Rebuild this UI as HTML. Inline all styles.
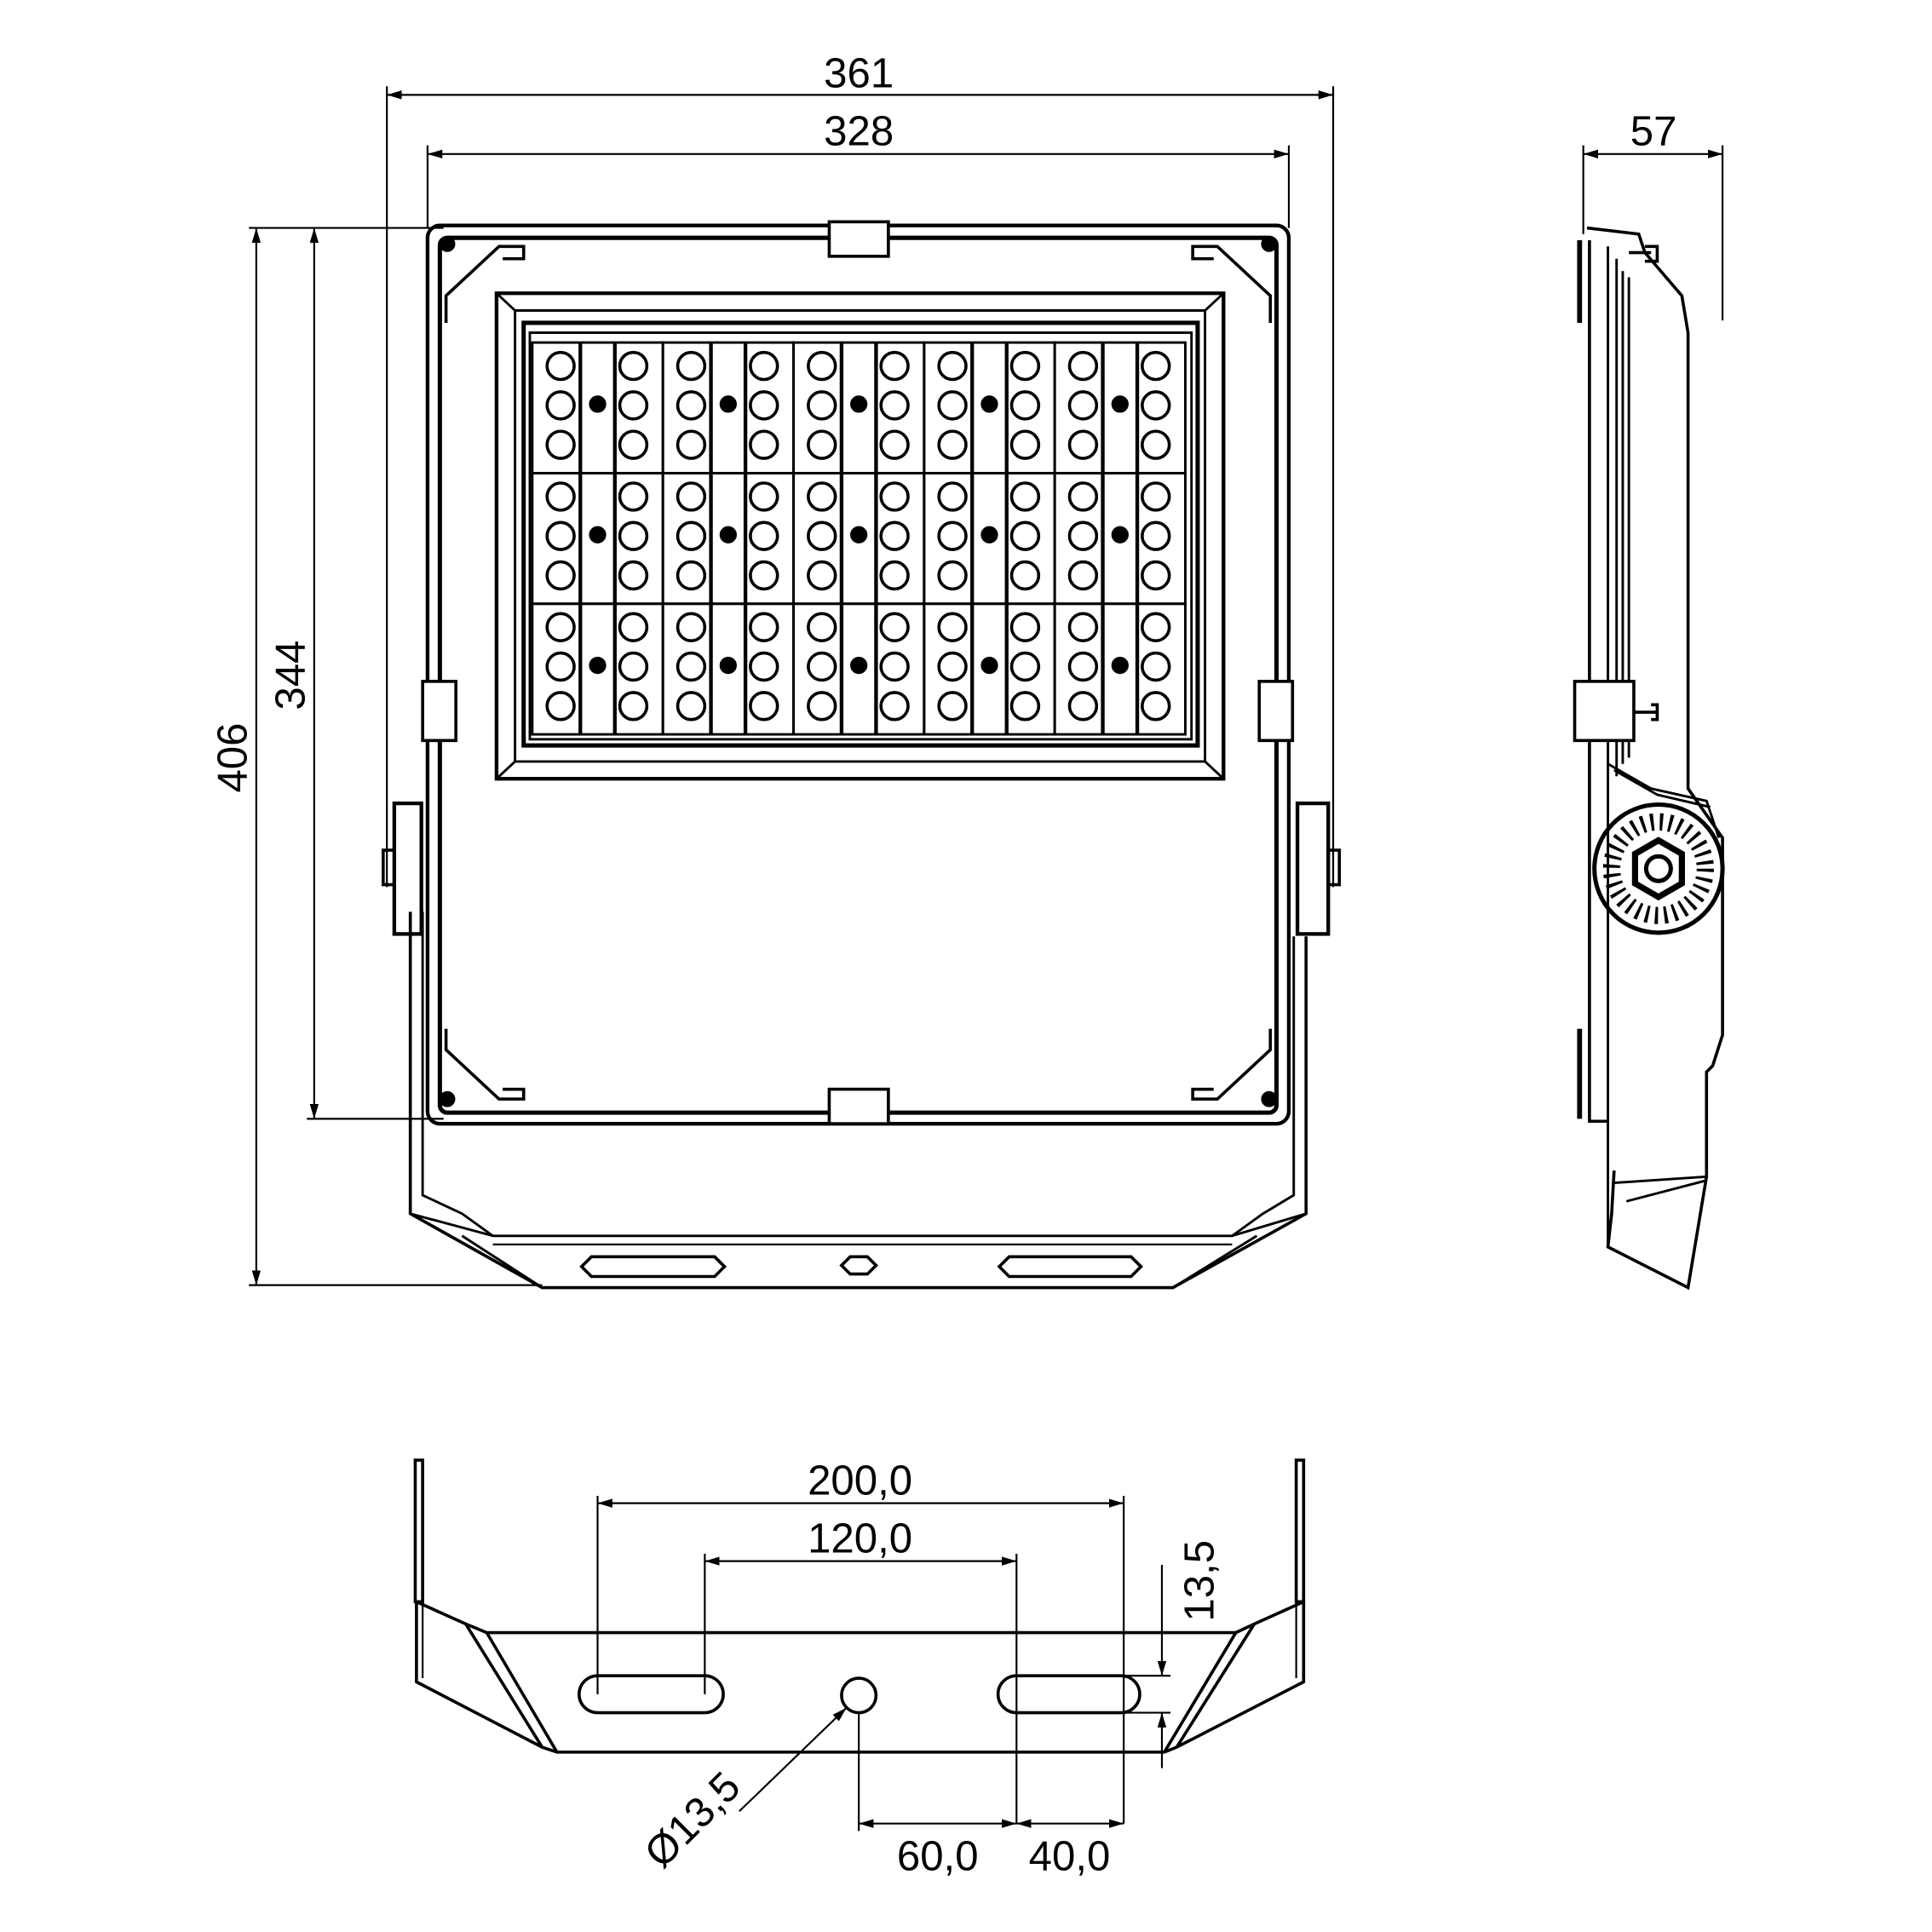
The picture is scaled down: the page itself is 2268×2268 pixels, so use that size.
<!DOCTYPE html>
<html><head><meta charset="utf-8"><style>html,body{margin:0;padding:0;background:#fff}svg{display:block}</style></head>
<body>
<svg width="2268" height="2268" viewBox="0 0 1568 1568" xmlns="http://www.w3.org/2000/svg" font-family="Liberation Sans, sans-serif">
<defs>
<marker id="ar" viewBox="0 0 10 10" refX="10" refY="5" markerWidth="12" markerHeight="12" markerUnits="userSpaceOnUse" orient="auto-start-reverse"><path d="M0,2 L10,5 L0,8 z" fill="#000"/></marker>
<g id="mod" fill="none" stroke="#000">
<rect x="0" y="0" width="106" height="106" stroke-width="2"/>
<line x1="39" y1="0" x2="39" y2="106" stroke-width="3"/>
<line x1="67" y1="0" x2="67" y2="106" stroke-width="3"/>
<circle cx="23" cy="19" r="11" stroke-width="2.5"/><circle cx="23" cy="51" r="11" stroke-width="2.5"/><circle cx="23" cy="83" r="11" stroke-width="2.5"/>
<circle cx="82" cy="19" r="11" stroke-width="2.5"/><circle cx="82" cy="51" r="11" stroke-width="2.5"/><circle cx="82" cy="83" r="11" stroke-width="2.5"/>
<circle cx="53" cy="50" r="6.5" fill="#000"/>
</g>
</defs>
<g fill="none" stroke="#000" stroke-width="1.5">
<line x1="314" y1="77" x2="1082" y2="77" marker-start="url(#ar)" marker-end="url(#ar)"/>
<line x1="314" y1="70" x2="314" y2="720"/><line x1="1082" y1="70" x2="1082" y2="720"/>
<line x1="347" y1="125" x2="1046" y2="125" marker-start="url(#ar)" marker-end="url(#ar)"/>
<line x1="347" y1="118" x2="347" y2="185"/><line x1="1046" y1="118" x2="1046" y2="185"/>
<line x1="208" y1="185" x2="208" y2="1043" marker-start="url(#ar)" marker-end="url(#ar)"/>
<line x1="202" y1="185" x2="360" y2="185"/><line x1="202" y1="1043" x2="440" y2="1043"/>
<line x1="255" y1="185" x2="255" y2="908" marker-start="url(#ar)" marker-end="url(#ar)"/>
<line x1="249" y1="908" x2="360" y2="908"/>
<line x1="1285" y1="125" x2="1398" y2="125" marker-start="url(#ar)" marker-end="url(#ar)"/>
<line x1="1285" y1="118" x2="1285" y2="190"/><line x1="1398" y1="118" x2="1398" y2="260"/>
</g>
<g font-size="34" fill="#000" text-anchor="middle">
<text x="697" y="71">361</text><text x="697" y="118">328</text><text x="1342" y="118">57</text>
<text transform="translate(200,615) rotate(-90)">406</text>
<text transform="translate(247,548) rotate(-90)">344</text>
</g>
<g fill="none" stroke="#000">
<path d="M333,740 L333,985 L440,1045 L952,1045 L1060,985 L1060,760" stroke-width="2.5"/>
<path d="M343,740 L343,970 L375,985 L400,1003 L1000,1003 L1025,985 L1050,970 L1050,760" stroke-width="2"/>
<path d="M333,985 L400,1003 M1060,985 L1000,1003 M375,1003 L440,1045 M1020,1003 L952,1045" stroke-width="2"/>
<line x1="400" y1="1010" x2="1000" y2="1010" stroke-width="1.5"/>
<path d="M480,1020 L580,1020 L588,1028 L580,1036 L480,1036 L472,1028 z" stroke-width="2.5"/>
<path d="M819,1020 L918,1020 L926,1028 L918,1036 L819,1036 L811,1028 z" stroke-width="2.5"/>
<path d="M690,1020 L704,1020 L711,1027 L704,1034 L690,1034 L683,1027 z" stroke-width="2.5"/>
<rect x="347" y="183" width="699" height="729" rx="10" stroke-width="3"/>
<rect x="357" y="193" width="679" height="710" rx="6" stroke-width="3.5"/>
<path d="M362,262 L362,240 L405,200 L425,200 L425,210 L408,210" stroke-width="2.5"/>
<path d="M1031,262 L1031,240 L988,200 L968,200 L968,210 L985,210" stroke-width="2.5"/>
<path d="M362,835 L362,852 L405,892 L425,892 L425,884 L408,884" stroke-width="2.5"/>
<path d="M1031,835 L1031,852 L988,892 L968,892 L968,884 L985,884" stroke-width="2.5"/>
<circle cx="363" cy="198" r="6" fill="#000"/><circle cx="1030" cy="198" r="6" fill="#000"/>
<circle cx="363" cy="892" r="6" fill="#000"/><circle cx="1030" cy="892" r="6" fill="#000"/>
<rect x="673" y="180" width="48" height="28" fill="#fff" stroke-width="2.5"/>
<rect x="673" y="884" width="48" height="28" fill="#fff" stroke-width="2.5"/>
<rect x="343" y="553" width="27" height="48" fill="#fff" stroke-width="2.5"/>
<rect x="1022" y="553" width="27" height="48" fill="#fff" stroke-width="2.5"/>
<rect x="320" y="652" width="22" height="106" stroke-width="3"/>
<rect x="311" y="690" width="9" height="28" stroke-width="2.5"/>
<rect x="1053" y="652" width="25" height="106" stroke-width="3"/>
<rect x="1078" y="690" width="9" height="28" stroke-width="2.5"/>
<path d="M403,238 L993,238 L993,632 L403,632 z" stroke-width="3"/>
<path d="M403,238 L418,252 L978,252 L993,238 M403,632 L418,618 L978,618 L993,632 M418,252 L418,618 M978,252 L978,618" stroke-width="2"/>
<rect x="425" y="262" width="547" height="343" stroke-width="3.5"/>
<rect x="430" y="270" width="537" height="330" stroke-width="2"/>
</g>
<use href="#mod" x="432" y="278"/><use href="#mod" x="538" y="278"/><use href="#mod" x="644" y="278"/><use href="#mod" x="750" y="278"/><use href="#mod" x="856" y="278"/>
<use href="#mod" x="432" y="384"/><use href="#mod" x="538" y="384"/><use href="#mod" x="644" y="384"/><use href="#mod" x="750" y="384"/><use href="#mod" x="856" y="384"/>
<use href="#mod" x="432" y="490"/><use href="#mod" x="538" y="490"/><use href="#mod" x="644" y="490"/><use href="#mod" x="750" y="490"/><use href="#mod" x="856" y="490"/>
<g fill="none" stroke="#000" stroke-width="2.5">
<path d="M1282,195 L1282,262 M1282,835 L1282,908" stroke-width="4"/>
<path d="M1288,185 L1330,190 L1335,205 L1365,240 L1370,270 L1370,640 L1398,680 L1398,840 L1390,865 L1385,870 L1385,955 L1370,1045 L1305,1012 L1308,985 L1310,950"/>
<path d="M1290,195 L1290,910 L1305,910"/>
<path d="M1305,200 L1305,1010" stroke-width="2"/>
<path d="M1312,210 L1312,630 M1317,220 L1317,620 M1322,225 L1322,615" stroke-width="2"/>
<path d="M1310,960 L1385,955 M1320,975 L1385,958" stroke-width="2"/>
<path d="M1322,205 L1340,205 M1335,200 L1345,200 L1345,212 L1335,212"/>
<path d="M1305,620 L1340,640 L1385,650 L1395,680" stroke-width="2"/>
<path d="M1310,625 L1345,645 L1388,655" stroke-width="2"/>
<rect x="1278" y="553" width="48" height="48" fill="#fff"/>
<path d="M1326,578 L1345,578 M1340,572 L1345,572 L1345,584 L1340,584"/>
<circle cx="1346" cy="705" r="52" stroke-width="3.5"/>
<circle cx="1346" cy="705" r="38" stroke-width="14" stroke-dasharray="2.5 5"/>
<path d="M1346,682 L1365,693 L1365,717 L1346,728 L1327,717 L1327,693 z" stroke-width="5"/>
<circle cx="1346" cy="705" r="10" stroke-width="3.5"/>
</g>
<g fill="none" stroke="#000" stroke-width="2.5">
<path d="M337,1185 L337,1300 L343,1300 L343,1185 z"/>
<path d="M1052,1185 L1052,1300 L1058,1300 L1058,1185 z"/>
<path d="M338,1300 L338,1365 L440,1418 L452,1422 L945,1422 L955,1418 L1058,1365 L1058,1300"/>
<path d="M338,1300 L378,1318 L395,1325 L1003,1325 L1018,1318 L1058,1300"/>
<path d="M378,1318 L440,1418 M395,1325 L452,1422 M1018,1318 L955,1418 M1003,1325 L945,1422"/>
<path d="M343,1300 L343,1362 M1052,1300 L1052,1362" stroke-width="1.5"/>
<rect x="470" y="1360" width="117" height="30" rx="15"/>
<rect x="810" y="1360" width="115" height="30" rx="15"/>
<circle cx="697" cy="1376" r="14"/>
</g>
<g fill="none" stroke="#000" stroke-width="1.5">
<line x1="485" y1="1220" x2="912" y2="1220" marker-start="url(#ar)" marker-end="url(#ar)"/>
<line x1="485" y1="1214" x2="485" y2="1375"/><line x1="912" y1="1214" x2="912" y2="1480"/>
<line x1="572" y1="1267" x2="825" y2="1267" marker-start="url(#ar)" marker-end="url(#ar)"/>
<line x1="572" y1="1261" x2="572" y2="1375"/><line x1="825" y1="1261" x2="825" y2="1480"/>
<line x1="697" y1="1390" x2="697" y2="1486"/>
<line x1="697" y1="1480" x2="825" y2="1480" marker-start="url(#ar)" marker-end="url(#ar)"/>
<line x1="825" y1="1480" x2="912" y2="1480" marker-start="url(#ar)" marker-end="url(#ar)"/>
<line x1="943" y1="1270" x2="943" y2="1360" marker-end="url(#ar)"/>
<line x1="943" y1="1435" x2="943" y2="1390" marker-end="url(#ar)"/>
<line x1="910" y1="1360" x2="950" y2="1360"/><line x1="910" y1="1390" x2="950" y2="1390"/>
<line x1="600" y1="1470" x2="687" y2="1386" marker-end="url(#ar)"/>
</g>
<g font-size="34" fill="#000" text-anchor="middle">
<text x="698" y="1213">200,0</text><text x="698" y="1260">120,0</text>
<text x="761" y="1518">60,0</text><text x="868" y="1518">40,0</text>
<text transform="translate(985,1283) rotate(-90)">13,5</text>
<text transform="translate(570,1485) rotate(-45)">Ø13,5</text>
</g>
</svg>
</body></html>
